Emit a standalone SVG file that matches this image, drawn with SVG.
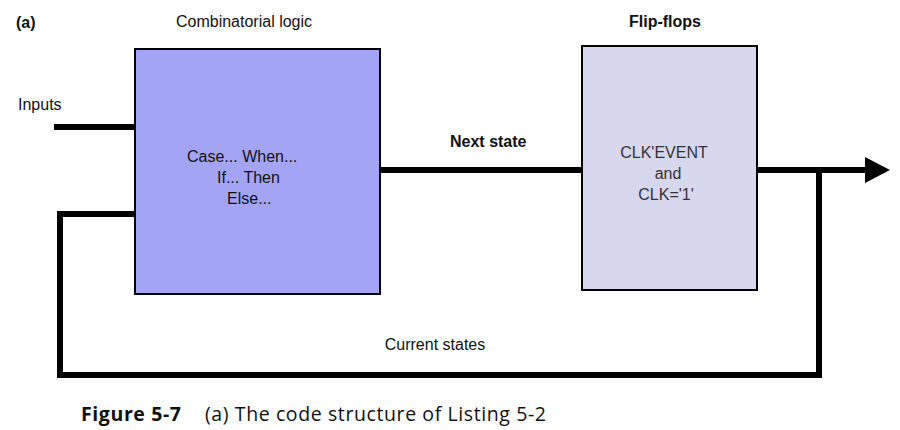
<svg xmlns="http://www.w3.org/2000/svg" width="900" height="430" viewBox="0 0 900 430">
<defs>
<style>
.t{font-family:"Liberation Sans",Arial,sans-serif;font-size:16px;fill:#111}
.b{font-weight:bold}
.g{fill:#333}
.w{fill:none;stroke:#000;stroke-width:6;stroke-linejoin:miter}
.box{stroke:#000;stroke-width:2}
.cap{font-family:"Open Sans","DejaVu Sans",sans-serif;font-size:19.5px;fill:#111;letter-spacing:0.6px}
</style>
<marker id="ah" markerWidth="25" markerHeight="26" refX="0" refY="13" orient="auto" markerUnits="userSpaceOnUse">
<path d="M0,0 L25,13 L0,26 Z" fill="#000"/>
</marker>
</defs>
<rect width="900" height="430" fill="#fff"/>
<text class="t b" x="16" y="28" font-size="17">(a)</text>
<g id="connectors">
<path class="w" d="M54,127 H135"/>
<path class="w" d="M380,170 H582"/>
<path class="w" d="M757,170 H865" marker-end="url(#ah)"/>
<path class="w" d="M819,170 V375 H60 V214 H135"/>
</g>
<g id="comb">
<rect class="box" x="135" y="49" width="245" height="245" fill="#a4a4f4"/>
<text class="t" x="244" y="27" text-anchor="middle">Combinatorial logic</text>
<text class="t" x="187" y="162">Case... When...</text>
<text class="t" x="217" y="183">If... Then</text>
<text class="t" x="227" y="204">Else...</text>
</g>
<g id="ff">
<rect class="box" x="582" y="46" width="175" height="244" fill="#d7d7ee"/>
<text class="t b" x="665" y="27" text-anchor="middle" font-size="14">Flip-flops</text>
<text class="t g" x="664" y="158" text-anchor="middle">CLK'EVENT</text>
<text class="t g" x="668" y="179" text-anchor="middle">and</text>
<text class="t g" x="666" y="200" text-anchor="middle">CLK='1'</text>
</g>
<text class="t" x="18" y="110">Inputs</text>
<text class="t b" x="450" y="147" font-size="14.5">Next state</text>
<text class="t" x="435" y="350" text-anchor="middle">Current states</text>
<text class="cap" x="81" y="421"><tspan font-weight="bold">Figure 5-7</tspan><tspan x="205">(a) The code structure of Listing 5-2</tspan></text>
</svg>
